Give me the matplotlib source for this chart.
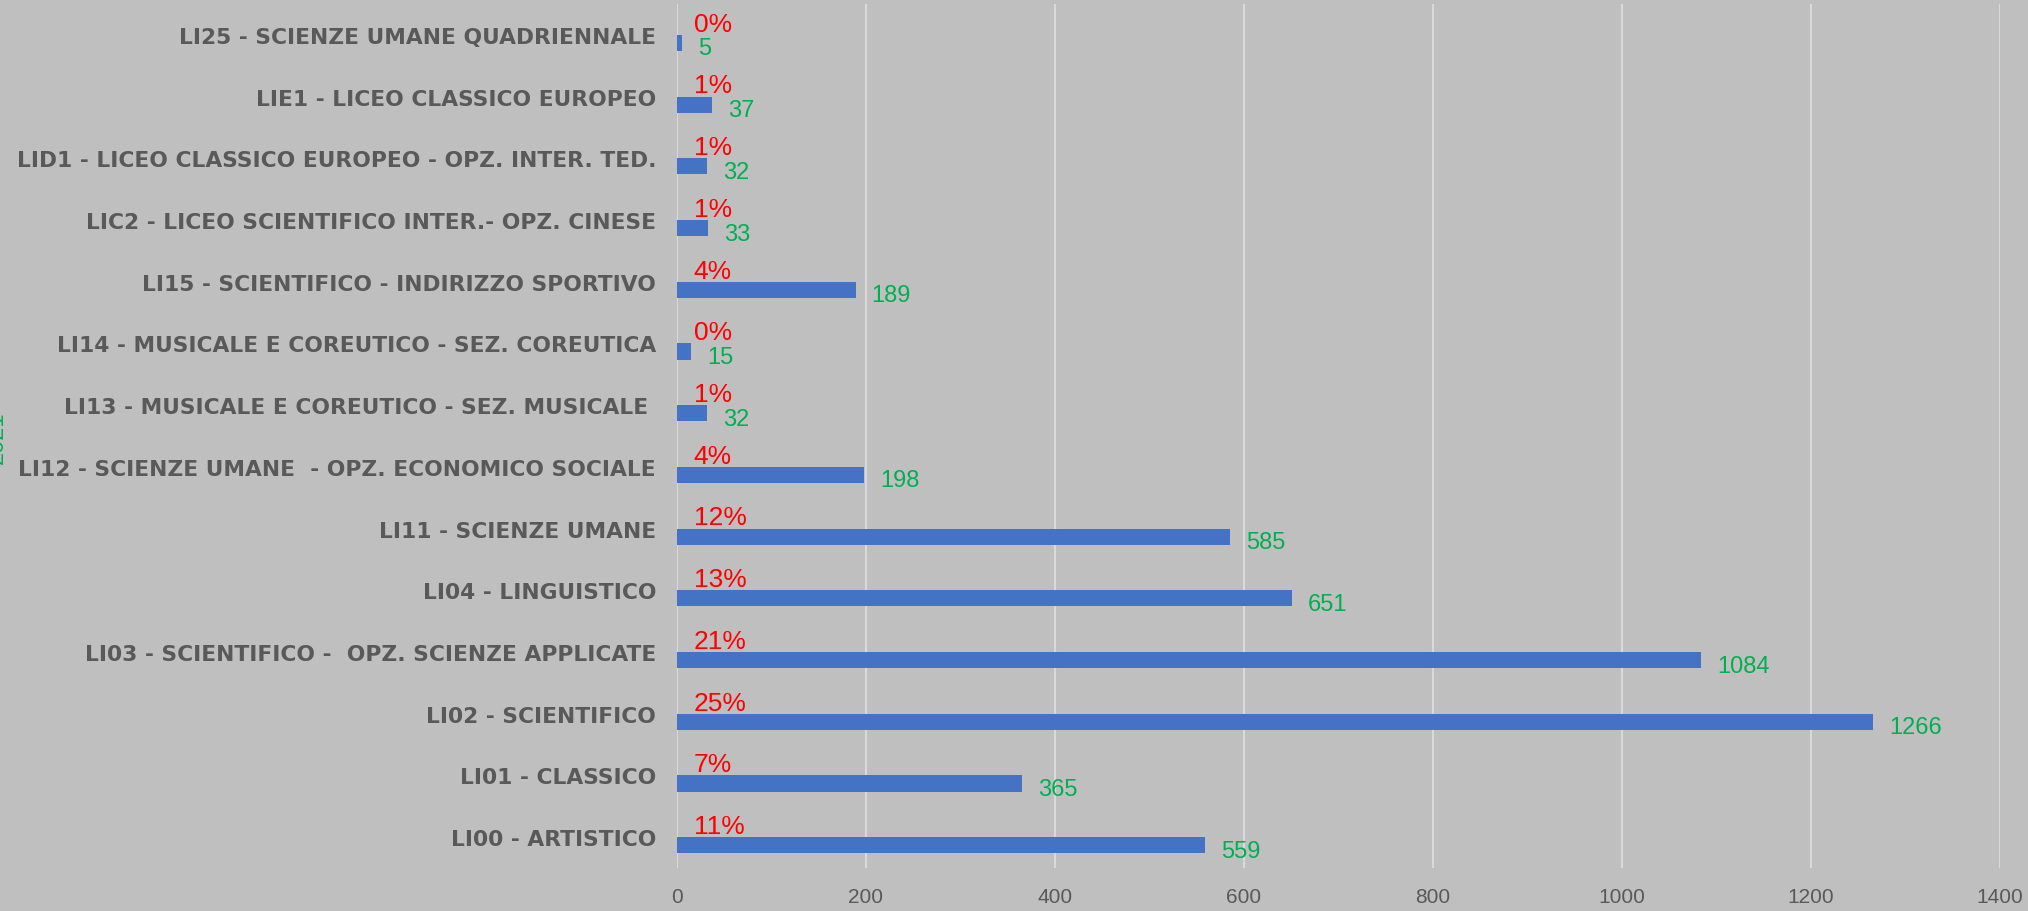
import matplotlib
matplotlib.use("Agg")
from matplotlib import pyplot as plt

# bottom to top, as drawn
categories = [
    "LI00 - ARTISTICO",
    "LI01 - CLASSICO",
    "LI02 - SCIENTIFICO",
    "LI03 - SCIENTIFICO -  OPZ. SCIENZE APPLICATE",
    "LI04 - LINGUISTICO",
    "LI11 - SCIENZE UMANE",
    "LI12 - SCIENZE UMANE  - OPZ. ECONOMICO SOCIALE",
    "LI13 - MUSICALE E COREUTICO - SEZ. MUSICALE ",
    "LI14 - MUSICALE E COREUTICO - SEZ. COREUTICA",
    "LI15 - SCIENTIFICO - INDIRIZZO SPORTIVO",
    "LIC2 - LICEO SCIENTIFICO INTER.- OPZ. CINESE",
    "LID1 - LICEO CLASSICO EUROPEO - OPZ. INTER. TED.",
    "LIE1 - LICEO CLASSICO EUROPEO",
    "LI25 - SCIENZE UMANE QUADRIENNALE",
]
counts = [559, 365, 1266, 1084, 651, 585, 198, 32, 15, 189, 33, 32, 37, 5]
percents = ["11%", "7%", "25%", "21%", "13%", "12%", "4%", "1%", "0%", "4%", "1%", "1%", "1%", "0%"]
x_ticks = [0, 200, 400, 600, 800, 1000, 1200, 1400]

bg = "#BFBFBF"
grey_text = "#595959"
bar_color = "#4472C4"
green = "#00B050"
red = "#FF0000"

fig = plt.figure(figsize=(20.28, 9.12), dpi=100, facecolor=bg)
ax = fig.add_axes([0.3338, 0.0471, 0.6524, 0.9474])
ax.set_facecolor(bg)

pos = list(range(len(categories)))
bar_h = 0.26
ax.barh([p - bar_h / 2 for p in pos], counts, height=bar_h, color=bar_color, zorder=3)

for p, v, pc in zip(pos, counts, percents):
    ax.annotate(str(v), xy=(v, p - bar_h / 2), xytext=(11.5, -4), textcoords="offset points",
                ha="left", va="center", color=green, fontsize=17, family="Liberation Sans", zorder=4)
    ax.annotate(pc, xy=(0, p), xytext=(12, 8), textcoords="offset points",
                ha="left", va="center", color=red, fontsize=19, family="Liberation Sans", zorder=4)

ax.set_xlim(0, 1400)
ax.set_ylim(-0.5, len(categories) - 0.5)
ax.set_xticks(x_ticks)
ax.set_xticklabels([str(t) for t in x_ticks], family="Liberation Sans", fontsize=15, color=grey_text)
ax.set_yticks(pos)
ax.set_yticklabels(categories, fontsize=15.7, fontweight="bold", color=grey_text)
ax.tick_params(axis="x", length=0, pad=14)
ax.tick_params(axis="y", length=0, pad=15)
ax.grid(axis="x", color="#D9D9D9", linewidth=1.5, zorder=0)
for s in ax.spines.values():
    s.set_visible(False)

# axis title, mostly cut off at the left edge as in the original
fig.text(-0.0015, 0.52, "2021", rotation=90, color=green, fontsize=17,
         family="Liberation Sans", ha="center", va="center")

plt.savefig("out.png", facecolor=bg)
